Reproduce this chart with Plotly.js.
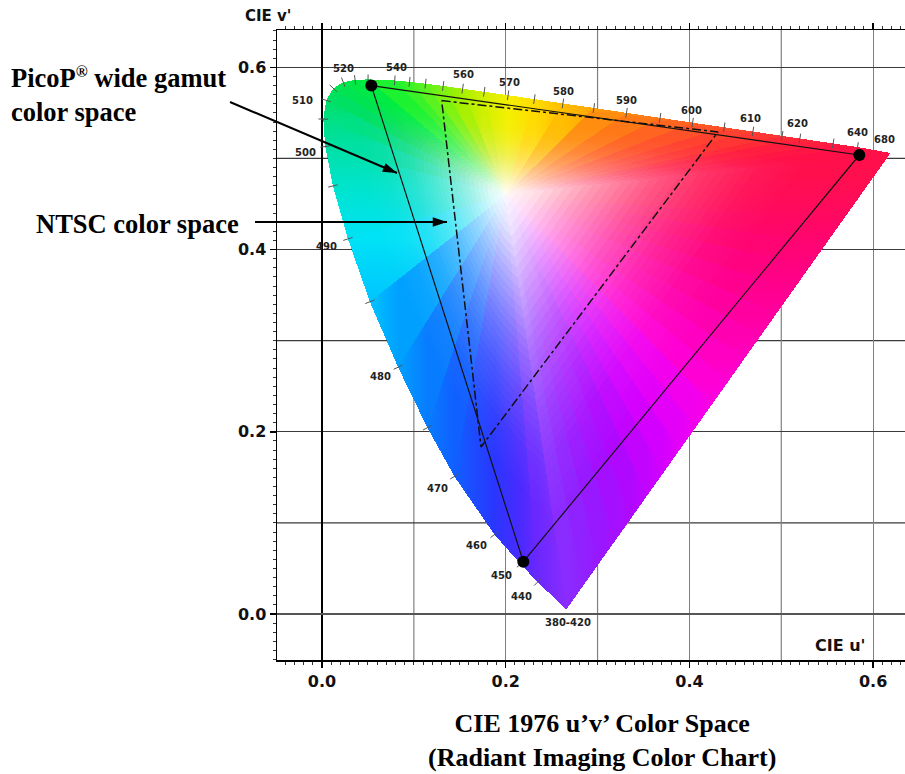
<!DOCTYPE html>
<html><head><meta charset="utf-8">
<script src="https://cdn.plot.ly/plotly-3.0.1.min.js"></script>
<style>
html,body{margin:0;padding:0;background:#fff;}
#chart .js-fill{shape-rendering:crispEdges;}
</style>
</head><body>
<div id="chart" style="width:905px;height:774px;"></div>
<script>
// Spectral locus (CIE 1976 u'v')
const locusNm = [380,440,450,460,470,475,480,485,490,495,500,505,510,515,520,525,530,540,545,550,555,560,565,570,575,580,585,590,595,600,605,610,615,620,630,640,680];
const locusU = [0.266,0.2347,0.2161,0.1877,0.1441,0.1147,0.0828,0.0521,0.0282,0.0119,0.0035,0.0014,0.0046,0.0123,0.0231,0.0360,0.0501,0.0792,0.0953,0.1127,0.1319,0.1531,0.1766,0.2026,0.2312,0.2623,0.2960,0.3315,0.3681,0.4035,0.4379,0.4692,0.5010,0.5203,0.5565,0.5830,0.619];
const locusV = [0.005,0.0350,0.0549,0.0871,0.1510,0.2044,0.2708,0.3427,0.4117,0.4698,0.5131,0.5432,0.5638,0.5770,0.5837,0.5861,0.5868,0.5856,0.5841,0.5821,0.5796,0.5766,0.5732,0.5694,0.5651,0.5604,0.5554,0.5501,0.5446,0.5393,0.5342,0.5296,0.5248,0.5219,0.5165,0.5125,0.506];
const locusColor = ['#8a2cff','#6a28ff','#4a2aff','#2a36ff','#1060ff','#087cff','#00a0ff','#00c4ff','#00e2f6','#00e4cc','#00e0a4','#00e084','#00e064','#00e452','#00e848','#00ec42','#04f03c','#1cf230','#3af228','#5cf220','#80f210','#a8f000','#d0f000','#f4f000','#ffdc00','#ffbe00','#ffa608','#ff8e10','#ff7818','#ff6420','#ff5228','#ff4230','#ff3634','#ff2a38','#ff1e40','#ff1644','#ff1048'];
// Line of purples (from the red end back to the violet end)
const purpleU = [0.6014,0.5837,0.5660,0.5484,0.5307,0.5131,0.4954,0.4778,0.4601,0.4425,0.4248,0.4072,0.3895,0.3719,0.3542,0.3366,0.3190,0.3013,0.2837];
const purpleV = [0.4810,0.4559,0.4309,0.4058,0.3808,0.3557,0.3307,0.3056,0.2806,0.2555,0.2305,0.2054,0.1804,0.1553,0.1303,0.1052,0.0802,0.0551,0.0301];
const purpleColor = ['#ff0e4e','#ff0c58','#ff0864','#ff0472','#ff0280','#ff008e','#ff009e','#ff00b0','#ff00c2','#ff00d4','#fa00e2','#f200ee','#e400f8','#d400ff','#c204ff','#b008ff','#a410ff','#9818ff','#9022ff'];
// White centre of the chart
const whiteU = 0.20, whiteV = 0.46;

// PicoP wide gamut triangle (G, R, B)
const picoU = [0.0537,0.585,0.2192];
const picoV = [0.580,0.5038,0.0574];
// NTSC triangle (G, R, B)
const ntscU = [0.1303,0.4311,0.1731];
const ntscV = [0.5635,0.5291,0.1833];

// Wavelength labels
const labelText = ['520','540','560','570','580','590','600','610','620','640','680','510','500','490','480','470','460','450','440','380-420'];
const labelU = [0.0229,0.0806,0.1535,0.2036,0.2624,0.332,0.4028,0.466,0.518,0.5825,0.612,-0.0207,-0.0185,0.005,0.064,0.126,0.168,0.1956,0.2174,0.268];
const labelV = [0.599,0.600,0.592,0.583,0.574,0.564,0.553,0.544,0.538,0.528,0.521,0.564,0.507,0.403,0.261,0.138,0.0757,0.0428,0.0187,-0.0088];

// Axis ticks (labelled) and intermediate grid lines
const tickVals = [0,0.2,0.4,0.6];
const tickText = ['0.0','0.2','0.4','0.6'];
const midGrid = [0.1,0.3,0.5];

// geometry helpers (pixel scale of the plot area)
const L=277, T=30, PW=628, PH=630;
const XR=[-0.049,0.6347], YR=[-0.0505,0.641];
const SX = PW/(XR[1]-XR[0]), SY = PH/(YR[1]-YR[0]);

const traces = [];
const bu = locusU.concat(purpleU), bv = locusV.concat(purpleV), bc = locusColor.concat(purpleColor);
const n = bu.length;
// hue fan: each wedge shaded across its width
for(let i=0;i<n;i++){
  const j=(i+1)%n;
  const ru=((bu[i]+bu[j])/2-whiteU)*SX, rv=((bv[i]+bv[j])/2-whiteV)*SY;
  let horiz = Math.abs(rv)>Math.abs(ru);
  if(horiz && Math.abs(bu[j]-bu[i])<1e-4) horiz=false;
  if(!horiz && Math.abs(bv[j]-bv[i])<1e-4) horiz=true;
  traces.push({
    type:'scatter', mode:'none', hoverinfo:'skip', showlegend:false,
    x:[whiteU,bu[i],bu[j],whiteU], y:[whiteV,bv[i],bv[j],whiteV],
    fill:'toself',
    fillgradient:{
      type: horiz?'horizontal':'vertical',
      start: horiz?bu[i]:bv[i],
      stop: horiz?bu[j]:bv[j],
      colorscale:[[0,bc[i]],[1,bc[j]]]
    }
  });
}
// white glow towards the centre (nested copies of the outline)
const glowProfile = [[0,0.97],[0.08,0.88],[0.22,0.62],[0.38,0.36],[0.52,0.18],[0.66,0.06],[0.8,0]];
function opac(s){
  for(let k=1;k<glowProfile.length;k++){
    const a=glowProfile[k-1], b=glowProfile[k];
    if(s<=b[0]) return a[1]+(b[1]-a[1])*(s-a[0])/(b[0]-a[0]);
  }
  return 0;
}
for(let s=0.8; s>0.01; s-=0.025){
  const tIn = 1-opac(Math.max(0,s-0.0125)), tOut = 1-opac(s+0.0125);
  const alpha = Math.max(0, 1 - tIn/tOut);
  const gx = bu.map(u=>whiteU+s*(u-whiteU)), gy = bv.map(v=>whiteV+s*(v-whiteV));
  gx.push(gx[0]); gy.push(gy[0]);
  traces.push({type:'scatter',mode:'none',hoverinfo:'skip',x:gx,y:gy,fill:'toself',
    fillcolor:'rgba(255,255,255,'+alpha.toFixed(3)+')'});
}

// tick marks on the locus
const tickAng = locusU.map((u,i)=>{
  const a=Math.max(0,i-1), b=Math.min(locusU.length-1,i+1);
  const dx=(locusU[b]-locusU[a])*SX, dy=-(locusV[b]-locusV[a])*SY;
  return Math.atan2(dy,dx)*180/Math.PI;
});
traces.push({type:'scatter',mode:'markers',hoverinfo:'skip',x:locusU.slice(1,-1),y:locusV.slice(1,-1),
  marker:{symbol:'line-ns',size:7,angle:tickAng.slice(1,-1),line:{color:'#555',width:1}}});

// NTSC dash-dot triangle
traces.push({type:'scatter',mode:'lines',hoverinfo:'skip',x:ntscU.concat([ntscU[0]]),y:ntscV.concat([ntscV[0]]),
  line:{color:'#111',width:1.5,dash:'dashdot'}});
// PicoP triangle
traces.push({type:'scatter',mode:'lines',hoverinfo:'skip',x:picoU.concat([picoU[0]]),y:picoV.concat([picoV[0]]),
  line:{color:'#111',width:1.2}});
traces.push({type:'scatter',mode:'markers',hoverinfo:'skip',x:picoU,y:picoV,
  marker:{color:'#000',size:12}});

// pointer arrows (pixel positions of tail and tip in the figure)
const arrowTailX = [230,255], arrowTailY = [102,222];
const arrowTipX = [397,447], arrowTipY = [173,222];
const toU = p=>XR[0]+(p-L)/SX, toV = p=>YR[0]+(T+PH-p)/SY;
const px = v=>(v-L)/PW, py = v=>(T+PH-v)/PH;
const shapes = arrowTipX.map((x,i)=>({type:'line',xref:'paper',yref:'paper',
  x0:px(arrowTailX[i]),y0:py(arrowTailY[i]),x1:px(arrowTipX[i]),y1:py(arrowTipY[i]),
  line:{color:'#000',width:2}}));
midGrid.forEach(g=>{
  shapes.push({type:'line',layer:'below',xref:'x',yref:'paper',x0:g,x1:g,y0:0,y1:1,line:{color:'#808080',width:1.2}});
  shapes.push({type:'line',layer:'below',xref:'paper',yref:'y',x0:0,x1:1,y0:g,y1:g,line:{color:'#3a3a3a',width:1.3}});
});
traces.push({type:'scatter',mode:'markers',hoverinfo:'skip',cliponaxis:false,
  x:arrowTipX.map(toU),y:arrowTipY.map(toV),
  marker:{symbol:'arrow',size:15,color:'#000',
    angle:arrowTipX.map((x,i)=>Math.atan2(x-arrowTailX[i], -(arrowTipY[i]-arrowTailY[i]))*180/Math.PI)}});

const serif = {family:'Liberation Serif, Times New Roman, serif',size:26.5,color:'#000',weight:'bold'};
const sansB = {family:'DejaVu Sans, sans-serif',size:16,color:'#111',weight:'bold'};

const annotations = [
  {xref:'paper',yref:'paper',x:px(9),y:py(95.3),xanchor:'left',yanchor:'middle',align:'left',showarrow:false,
   text:'PicoP<span style="font-size:16px;baseline-shift:60%">®</span> wide gamut<br>color space',font:serif},
  {xref:'paper',yref:'paper',x:px(34),y:py(224),xanchor:'left',yanchor:'middle',showarrow:false,text:'NTSC color space',font:serif},
  {xref:'paper',yref:'paper',x:px(601.5),y:py(740),xanchor:'center',yanchor:'middle',align:'center',showarrow:false,
   text:'CIE 1976 u’v’ Color Space<br>(Radiant Imaging Color Chart)',font:Object.assign({},serif,{size:26})},
  {xref:'paper',yref:'paper',x:px(268),y:py(15.5),xanchor:'center',yanchor:'middle',showarrow:false,text:"CIE v'",font:{family:'DejaVu Sans, sans-serif',size:15,color:'#111',weight:'bold'}},
  {xref:'paper',yref:'paper',x:px(840),y:py(645),xanchor:'center',yanchor:'middle',showarrow:false,text:"CIE u'",font:sansB}
];
labelText.forEach((t,i)=>annotations.push({x:labelU[i],y:labelV[i],xref:'x',yref:'y',text:t,showarrow:false,
  font:{family:'DejaVu Sans, sans-serif',size:10,color:'#222',weight:'bold'}}));

const axBase = {
  tickmode:'array', tickvals:tickVals, ticktext:tickText, showgrid:true, showline:true, linecolor:'#000', linewidth:1.5,
  ticks:'outside', ticklen:6, tickwidth:1.5, tickcolor:'#000', tickfont:sansB, zeroline:true,
  minor:{tickmode:'linear',tick0:0,dtick:0.01,ticks:'outside',ticklen:3,tickwidth:1,tickcolor:'#333',showgrid:false},
  fixedrange:true, automargin:false
};
const layout = {
  width:905,height:774,autosize:false,
  margin:{l:L,r:905-L-PW,t:T,b:774-T-PH,pad:0},
  paper_bgcolor:'#fff',plot_bgcolor:'#fff',showlegend:false,
  xaxis:Object.assign({},axBase,{range:XR,gridcolor:'#808080',gridwidth:1.2,zerolinecolor:'#000',zerolinewidth:2.5,mirror:'ticks'}),
  yaxis:Object.assign({},axBase,{range:YR,gridcolor:'#3a3a3a',gridwidth:1.3,zerolinecolor:'#555',zerolinewidth:1.2,mirror:false}),
  annotations:annotations, shapes:shapes
};
Plotly.newPlot('chart',traces,layout,{displayModeBar:false,staticPlot:true});
</script>
</body></html>
